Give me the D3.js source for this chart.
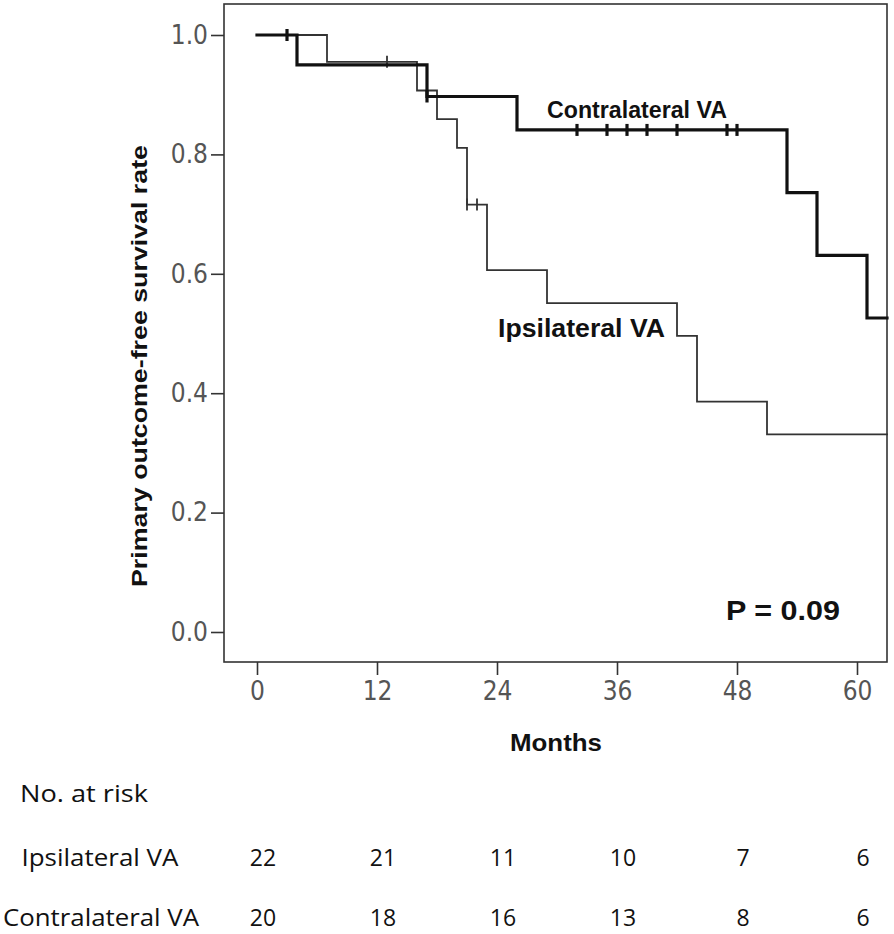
<!DOCTYPE html>
<html>
<head>
<meta charset="utf-8">
<script src="https://cdn.jsdelivr.net/npm/d3@7"></script>
<style>
  html, body { margin: 0; padding: 0; background: #fff; }
  svg { display: block; }
</style>
</head>
<body>
<svg id="chart" width="894" height="934"></svg>
<script>
// ---------- data ----------
const groups = ["Ipsilateral VA", "Contralateral VA"];
// Ipsilateral VA (thin line): event times (months) and survival after each event
const ipsiEventTimes = [7, 16, 18, 20, 21, 23, 29, 42, 44, 51];
const ipsiSurvival   = [0.955, 0.907, 0.859, 0.811, 0.716, 0.606, 0.551, 0.496, 0.386, 0.331];
const ipsiCensored   = [13, 21, 22];
// Contralateral VA (thick line)
const contraEventTimes = [4, 17, 26, 53, 56, 61];
const contraSurvival   = [0.950, 0.897, 0.841, 0.736, 0.631, 0.526];
const contraCensored   = [3, 17, 32, 35, 37, 39, 42, 47, 48];
// axes
const xTicks = [0, 12, 24, 36, 48, 60];
const yTicks = [0.0, 0.2, 0.4, 0.6, 0.8, 1.0];
// number at risk
const riskTimes  = [0, 12, 24, 36, 48, 60];
const ipsiRisk   = [22, 21, 11, 10, 7, 6];
const contraRisk = [20, 18, 16, 13, 8, 6];
const pText = "P = 0.09";

// ---------- layout ----------
const svg = d3.select("#chart");
const box = { left: 224, right: 887, top: 4, bottom: 662 };
const x = d3.scaleLinear().domain([0, 60]).range([257, 857]);
const y = d3.scaleLinear().domain([0, 1]).range([632, 35]);
const xEnd = x.invert(box.right);

const narrow = "'Liberation Sans Narrow','Arial Narrow','DejaVu Sans Condensed',sans-serif";
const boldFont = "'Liberation Sans',Arial,Helvetica,sans-serif";
const tableFont = "'Open Sans','Noto Sans',sans-serif";

// plot frame
svg.append("rect")
  .attr("x", box.left).attr("y", box.top)
  .attr("width", box.right - box.left).attr("height", box.bottom - box.top)
  .attr("fill", "none").attr("stroke", "#333").attr("stroke-width", 1.6);

// axes
const yAxis = svg.append("g")
  .attr("transform", `translate(${box.left},0)`)
  .call(d3.axisLeft(y).tickValues(yTicks).tickFormat(d3.format(".1f")).tickSize(13).tickPadding(3));
const xAxis = svg.append("g")
  .attr("transform", `translate(0,${box.bottom})`)
  .call(d3.axisBottom(x).tickValues(xTicks).tickFormat(d3.format("d")).tickSize(13).tickPadding(7));
[yAxis, xAxis].forEach(g => {
  g.select(".domain").remove();
  g.selectAll(".tick line").attr("stroke", "#333").attr("stroke-width", 1.6);
  g.selectAll(".tick text")
    .attr("fill", "#555")
    .style("font-family", narrow)
    .style("font-size", "26px");
});

// step curves
function stepPoints(times, surv) {
  const pts = [[0, 1]];
  times.forEach((t, i) => pts.push([t, surv[i]]));
  pts.push([xEnd, surv[surv.length - 1]]);
  return pts;
}
function survAt(times, surv, t) {
  let s = 1;
  times.forEach((tt, i) => { if (tt <= t) s = surv[i]; });
  return s;
}
const line = d3.line().x(d => x(d[0])).y(d => y(d[1])).curve(d3.curveStepAfter);

const series = [
  { name: groups[0], times: ipsiEventTimes, surv: ipsiSurvival, cens: ipsiCensored, w: 1.8, color: "#333", mh: 6 },
  { name: groups[1], times: contraEventTimes, surv: contraSurvival, cens: contraCensored, w: 3.2, color: "#111", mh: 6 }
];
series.forEach(s => {
  svg.append("path")
    .attr("d", line(stepPoints(s.times, s.surv)))
    .attr("fill", "none").attr("stroke", s.color).attr("stroke-width", s.w)
    .attr("stroke-linejoin", "miter").attr("stroke-linecap", "square");
  svg.selectAll(null).data(s.cens).enter().append("line")
    .attr("x1", d => x(d)).attr("x2", d => x(d))
    .attr("y1", d => y(survAt(s.times, s.surv, d)) - s.mh)
    .attr("y2", d => y(survAt(s.times, s.surv, d)) + s.mh)
    .attr("stroke", s.color).attr("stroke-width", s.w);
});

// curve labels
svg.append("text").text(groups[1])
  .attr("x", 547).attr("y", 118)
  .attr("textLength", 180).attr("lengthAdjust", "spacingAndGlyphs")
  .style("font-family", boldFont).style("font-weight", "bold").style("font-size", "24px").attr("fill", "#111");
svg.append("text").text(groups[0])
  .attr("x", 498).attr("y", 337)
  .attr("textLength", 167).attr("lengthAdjust", "spacingAndGlyphs")
  .style("font-family", boldFont).style("font-weight", "bold").style("font-size", "25px").attr("fill", "#111");
svg.append("text").text(pText)
  .attr("x", 726).attr("y", 620)
  .attr("textLength", 114).attr("lengthAdjust", "spacingAndGlyphs")
  .style("font-family", boldFont).style("font-weight", "bold").style("font-size", "28px").attr("fill", "#111");

// axis titles
svg.append("text").text("Months")
  .attr("x", 556).attr("y", 751).attr("text-anchor", "middle")
  .attr("textLength", 92).attr("lengthAdjust", "spacingAndGlyphs")
  .style("font-family", boldFont).style("font-weight", "bold").style("font-size", "24px").attr("fill", "#111");
svg.append("text").text("Primary outcome-free survival rate")
  .attr("transform", "translate(147,366) rotate(-90)").attr("text-anchor", "middle")
  .attr("textLength", 442).attr("lengthAdjust", "spacingAndGlyphs")
  .style("font-family", boldFont).style("font-weight", "bold").style("font-size", "22px").attr("fill", "#111");

// number at risk table
const tbl = svg.append("g").style("font-family", tableFont).style("font-size", "23px").attr("fill", "#111");
tbl.append("text").text("No. at risk").attr("x", 20).attr("y", 802)
  .attr("textLength", 128).attr("lengthAdjust", "spacingAndGlyphs");
tbl.append("text").text(groups[0]).attr("x", 100).attr("y", 866).attr("text-anchor", "middle")
  .attr("textLength", 157).attr("lengthAdjust", "spacingAndGlyphs");
tbl.append("text").text(groups[1]).attr("x", 101).attr("y", 926).attr("text-anchor", "middle")
  .attr("textLength", 196).attr("lengthAdjust", "spacingAndGlyphs");
[[ipsiRisk, 866], [contraRisk, 926]].forEach(([vals, yy]) => {
  tbl.selectAll(null).data(vals).enter().append("text")
    .text(d => d)
    .attr("x", (d, i) => x(riskTimes[i]) + 6).attr("y", yy)
    .attr("text-anchor", "middle");
});
</script>
</body>
</html>
